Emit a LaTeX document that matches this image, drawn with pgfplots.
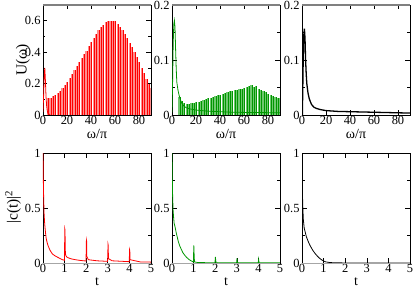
\documentclass[border=0pt]{standalone}
\usepackage{fontspec}
\setmainfont{Liberation Serif}
\usepackage{pgfplots}
\pgfplotsset{compat=1.18}
\definecolor{rd}{RGB}{255,0,0}
\definecolor{pk}{RGB}{255,140,140}
\definecolor{gr}{RGB}{0,150,0}
\definecolor{lg}{RGB}{110,200,110}
\pgfplotsset{
  panel/.style={scale only axis, width=108bp, height=110bp, anchor=south west,
    axis line style={line width=0.7pt}, tick style={black, line width=0.6pt},
    major tick length=4.5bp, minor tick length=2.5bp, tick align=inside,
    /pgf/number format/assume math mode=true,
    tick label style={font=\fontsize{12.5}{14}\selectfont},
    xticklabel style={yshift=2bp},
    yticklabel style={xshift=1bp},
    every axis x label/.style={at={(rel axis cs:0.5,0)}, anchor=center, yshift=-19bp, font=\fontsize{14}{16}\selectfont},
    every axis y label/.style={at={(rel axis cs:0,0.5)}, anchor=center, xshift=-30bp, rotate=90, font=\fontsize{15.5}{17}\selectfont},
    clip=true},
  toprow/.style={panel, xmin=0, xmax=90, xtick={0,20,40,60,80}, ymin=0,
    xlabel={ω/π},
    after end axis/.code={\draw[gray, line width=1.3pt] (rel axis cs:0,1) -- (rel axis cs:1,1);}},
  botrow/.style={panel, xmin=0, xmax=5, xtick={0,1,2,3,4,5}, ymin=0, ymax=1,
    ytick={0,0.5,1}, minor ytick={0.25,0.75}, xlabel={t},
    after end axis/.code={\draw[gray!70, line width=0.8pt] (rel axis cs:0,0) -- (rel axis cs:1,0);}},
}
\begin{document}
\begin{tikzpicture}
\useasboundingbox (0,0) rectangle (415bp,291bp);
% ---------- top left ----------
\begin{axis}[toprow, at={(43bp,176bp)}, ymax=0.7, ytick={0,0.2,0.4,0.6}, minor ytick={0.1,0.3,0.5},
  ylabel={U(ω)}, every axis y label/.append style={yshift=-10bp}]
\addplot[ycomb, pk, line width=1.5bp] coordinates {
(4,0.11)(6,0.11)(8,0.12)(10,0.125)(12,0.14)(14,0.155)(16,0.17)(18,0.19)(20,0.21)
(22,0.235)(24,0.26)(26,0.285)(28,0.31)(30,0.335)(32,0.36)(34,0.385)(36,0.41)(38,0.44)
(40,0.465)(42,0.49)(44,0.515)(46,0.54)(48,0.56)(50,0.575)(52,0.59)(54,0.6)(56,0.6)
(58,0.6)(60,0.595)(62,0.58)(64,0.56)(66,0.54)(68,0.515)(70,0.49)(72,0.46)(74,0.43)
(76,0.4)(78,0.37)(80,0.335)(82,0.3)(84,0.265)(86,0.23)(88,0.195)(90,0.17)};
\addplot[ycomb, rd, line width=0.6bp] coordinates {
(4.6,0.11)(6.6,0.11)(8.6,0.12)(10.6,0.125)(12.6,0.14)(14.6,0.155)(16.6,0.17)(18.6,0.19)(20.6,0.21)
(22.6,0.235)(24.6,0.26)(26.6,0.285)(28.6,0.31)(30.6,0.335)(32.6,0.36)(34.6,0.385)(36.6,0.41)(38.6,0.44)
(40.6,0.465)(42.6,0.49)(44.6,0.515)(46.6,0.54)(48.6,0.56)(50.6,0.575)(52.6,0.59)(54.6,0.6)(56.6,0.6)
(58.6,0.6)(60.6,0.595)(62.6,0.58)(64.6,0.56)(66.6,0.54)(68.6,0.515)(70.6,0.49)(72.6,0.46)(74.6,0.43)
(76.6,0.4)(78.6,0.37)(80.6,0.335)(82.6,0.3)(84.6,0.265)(86.6,0.23)(88.6,0.195)};
\addplot[rd, line width=0.8pt] coordinates {
(0,0.02)(0.5,0.12)(1,0.25)(1.5,0.30)(2,0.22)(2.5,0.12)(3,0.06)(3.5,0.03)(4,0.012)(5,0.005)(6,0.003)};
\end{axis}
% ---------- top middle ----------
\begin{axis}[toprow, at={(172bp,176bp)}, ymax=0.2, ytick={0,0.1,0.2}, minor ytick={0.05,0.15}]
\addplot[ycomb, lg, line width=1.5bp] coordinates {
(6,0.033)(8,0.025)(10,0.021)(12,0.02)(14,0.02)(16,0.021)(18,0.022)(20,0.023)(22,0.024)
(24,0.026)(26,0.027)(28,0.029)(30,0.03)(32,0.031)(34,0.033)(36,0.034)(38,0.036)(40,0.037)
(42,0.039)(44,0.04)(46,0.042)(48,0.043)(50,0.044)(52,0.045)(54,0.046)(56,0.047)(58,0.048)
(60,0.049)(62,0.05)(64,0.052)(66,0.054)(68,0.05)(70,0.052)(72,0.048)(74,0.046)(76,0.043)
(78,0.041)(80,0.039)(82,0.037)(84,0.035)(86,0.033)(88,0.031)(90,0.03)};
\addplot[ycomb, gr, line width=0.6bp] coordinates {
(6.6,0.033)(8.6,0.025)(10.6,0.021)(12.6,0.02)(14.6,0.02)(16.6,0.021)(18.6,0.022)(20.6,0.023)(22.6,0.024)
(24.6,0.026)(26.6,0.027)(28.6,0.029)(30.6,0.03)(32.6,0.031)(34.6,0.033)(36.6,0.034)(38.6,0.036)(40.6,0.037)
(42.6,0.039)(44.6,0.04)(46.6,0.042)(48.6,0.043)(50.6,0.044)(52.6,0.045)(54.6,0.046)(56.6,0.047)(58.6,0.048)
(60.6,0.049)(62.6,0.05)(64.6,0.052)(66.6,0.054)(68.6,0.05)(70.6,0.052)(72.6,0.048)(74.6,0.046)(76.6,0.043)
(78.6,0.041)(80.6,0.039)(82.6,0.037)(84.6,0.035)(86.6,0.033)(88.6,0.031)};
\addplot[gr, line width=0.8pt] coordinates {
(0,0.005)(0.5,0.06)(1,0.13)(1.5,0.165)(2,0.172)(2.5,0.16)(3,0.12)(3.5,0.085)(4,0.06)(5,0.045)
(6,0.035)(7,0.028)(8,0.022)(10,0.016)(12,0.013)(15,0.011)(20,0.009)(30,0.007)(50,0.005)(90,0.004)};
\end{axis}
% ---------- top right ----------
\begin{axis}[toprow, at={(302bp,176bp)}, ymax=0.2, ytick={0,0.1,0.2}, minor ytick={0.05,0.15}]
\addplot[black, line width=1.3pt] coordinates {
(0.3,0)(0.6,0.04)(1,0.1)(1.5,0.145)(2,0.157)(2.5,0.14)(3,0.1)(3.5,0.075)(4,0.057)(5,0.04)
(6,0.03)(7,0.024)(8,0.019)(10,0.014)(12,0.012)(15,0.01)(20,0.008)(30,0.0065)(40,0.006)
(50,0.0055)(60,0.005)(70,0.0045)(80,0.004)(90,0.0035)};
\end{axis}
% ---------- bottom left ----------
\begin{axis}[botrow, at={(43bp,28bp)}, ylabel={|c(t)|\textsuperscript{2}}, every axis y label/.append style={xshift=1bp}]
\addplot[rd, line width=0.8pt] coordinates {
(0,1)(0.01,0.85)(0.02,0.7)(0.03,0.6)(0.05,0.45)(0.07,0.38)(0.09,0.33)(0.12,0.27)(0.15,0.22)
(0.2,0.18)(0.25,0.15)(0.32,0.118)(0.4,0.092)(0.45,0.08)(0.55,0.066)(0.63,0.057)(0.7,0.05)
(0.8,0.04)(0.9,0.03)(0.99,0.025)(1.0,0.15)(1.01,0.31)(1.02,0.3)(1.03,0.12)(1.05,0.07)(1.1,0.055)
(1.2,0.045)(1.3,0.038)(1.5,0.03)(1.7,0.024)(1.99,0.018)(2.0,0.1)(2.01,0.21)(2.02,0.2)(2.03,0.06)
(2.1,0.03)(2.5,0.02)(2.99,0.015)(3.0,0.08)(3.01,0.17)(3.02,0.16)(3.03,0.04)(3.2,0.02)(3.99,0.012)
(4.0,0.06)(4.01,0.12)(4.02,0.11)(4.03,0.03)(4.5,0.01)(5,0.008)};
\end{axis}
% ---------- bottom middle ----------
\begin{axis}[botrow, at={(172bp,28bp)}]
\addplot[gr, line width=0.8pt] coordinates {
(0,1)(0.01,0.82)(0.03,0.6)(0.05,0.48)(0.08,0.4)(0.1,0.36)(0.14,0.33)(0.2,0.27)(0.3,0.19)
(0.37,0.15)(0.5,0.095)(0.6,0.068)(0.68,0.05)(0.8,0.03)(0.9,0.018)(0.99,0.01)(1.0,0.08)
(1.01,0.16)(1.02,0.1)(1.04,0.01)(1.2,0.004)(1.99,0.002)(2.0,0.03)(2.01,0.055)(2.03,0.01)
(2.1,0.002)(2.99,0.002)(3.0,0.02)(3.01,0.043)(3.03,0.005)(3.1,0.001)(3.99,0.001)(4.0,0.015)
(4.01,0.033)(4.03,0.004)(4.1,0.001)(5,0.001)};
\end{axis}
% ---------- bottom right ----------
\begin{axis}[botrow, at={(302bp,28bp)}]
\addplot[black, line width=0.8pt] coordinates {
(0,1)(0.01,0.8)(0.03,0.55)(0.06,0.4)(0.1,0.32)(0.2,0.24)(0.3,0.19)(0.37,0.16)(0.5,0.115)
(0.6,0.088)(0.7,0.065)(0.8,0.045)(0.9,0.03)(1.0,0.018)(1.1,0.01)(1.3,0.004)(1.6,0.001)(5,0)};
\end{axis}
\end{tikzpicture}
\end{document}
